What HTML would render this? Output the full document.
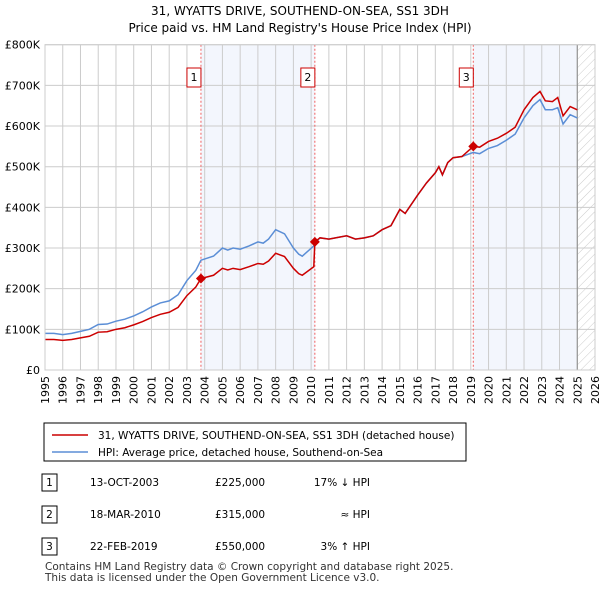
<!DOCTYPE html>
<html><head><meta charset="utf-8"><style>
body{margin:0;background:#fff;font-family:"Liberation Sans","DejaVu Sans",sans-serif;}
svg text{font-family:"DejaVu Sans","Liberation Sans",sans-serif;}
</style></head><body>
<svg id="c" width="600" height="590" xmlns="http://www.w3.org/2000/svg">
<defs><pattern id="hatch" width="6" height="6" patternUnits="userSpaceOnUse" patternTransform="rotate(45)"><line x1="0" y1="0" x2="0" y2="6" stroke="#ccc" stroke-width="1"/></pattern></defs>
<text x="300" y="15" text-anchor="middle" font-size="12">31, WYATTS DRIVE, SOUTHEND-ON-SEA, SS1 3DH</text>
<text x="300" y="32" text-anchor="middle" font-size="12">Price paid vs. HM Land Registry's House Price Index (HPI)</text>
<g id="plot"></g>
<rect x="44" y="423" width="422" height="38" fill="#fff" stroke="#000" stroke-width="1"/>
<line x1="52" y1="435" x2="88" y2="435" stroke="#cc0000" stroke-width="1.5"/>
<text x="98" y="439" font-size="10.5">31, WYATTS DRIVE, SOUTHEND-ON-SEA, SS1 3DH (detached house)</text>
<line x1="52" y1="452" x2="88" y2="452" stroke="#5b8ed6" stroke-width="1.5"/>
<text x="98" y="456" font-size="10.5">HPI: Average price, detached house, Southend-on-Sea</text>
<g font-size="10.5">
<rect x="42" y="474" width="15" height="17" fill="#fff" stroke="#000"/><text x="49.5" y="486" text-anchor="middle">1</text>
<text x="90" y="486">13-OCT-2003</text><text x="215" y="486">£225,000</text><text x="370" y="486" text-anchor="end">17% ↓ HPI</text>
<rect x="42" y="506" width="15" height="17" fill="#fff" stroke="#000"/><text x="49.5" y="518" text-anchor="middle">2</text>
<text x="90" y="518">18-MAR-2010</text><text x="215" y="518">£315,000</text><text x="370" y="518" text-anchor="end">≈ HPI</text>
<rect x="42" y="538" width="15" height="17" fill="#fff" stroke="#000"/><text x="49.5" y="550" text-anchor="middle">3</text>
<text x="90" y="550">22-FEB-2019</text><text x="215" y="550">£550,000</text><text x="370" y="550" text-anchor="end">3% ↑ HPI</text>
</g>
<text x="45" y="570" font-size="10.5" fill="#333">Contains HM Land Registry data © Crown copyright and database right 2025.</text>
<text x="45" y="581" font-size="10.5" fill="#333">This data is licensed under the Open Government Licence v3.0.</text>
</svg>
<script>
const dates=[1995.0,1995.5,1996.0,1996.5,1997.0,1997.5,1998.0,1998.5,1999.0,1999.5,2000.0,2000.5,2001.0,2001.5,2002.0,2002.5,2003.0,2003.5,2003.79,2004.5,2005.0,2005.3,2005.6,2006.0,2006.5,2007.0,2007.3,2007.6,2008.0,2008.5,2009.0,2009.3,2009.5,2010.15,2010.21,2010.5,2011.0,2012.0,2012.5,2013.0,2013.5,2014.0,2014.5,2015.0,2015.3,2016.0,2016.5,2017.0,2017.2,2017.4,2017.7,2018.0,2018.5,2019.14,2019.5,2020.0,2020.5,2021.0,2021.5,2022.0,2022.5,2022.9,2023.2,2023.6,2023.9,2024.2,2024.6,2025.0];
const hpi=[90,90,87,90,95,100,112,113,120,125,133,143,155,165,170,185,220,245,270,280,300,295,300,297,305,315,312,322,345,335,300,285,280,305,312,325,322,330,322,325,330,345,355,395,385,430,460,485,500,480,510,522,525,535,532,545,552,565,580,620,650,665,640,640,645,605,628,620];
const price=[75,75,73,75,79,83,93,94,100,104,111,119,129,137,142,154,183,204,225,233,250,246,250,247,254,262,260,268,287,279,250,237,233,254,315,325,322,330,322,325,330,345,355,395,385,430,460,485,500,480,510,522,525,550,548,562,570,582,597,640,670,685,662,660,670,625,648,640];
const saleDates=[2003.79,2010.21,2019.14];
const salePrices=[225,315,550];
const saleLabels=["1","2","3"];
const yTicks=[0,100,200,300,400,500,600,700,800];
const yTickLabels=["£0","£100K","£200K","£300K","£400K","£500K","£600K","£700K","£800K"];
const xYears=[1995,1996,1997,1998,1999,2000,2001,2002,2003,2004,2005,2006,2007,2008,2009,2010,2011,2012,2013,2014,2015,2016,2017,2018,2019,2020,2021,2022,2023,2024,2025,2026];
const dataEnd=2025.0;
const X0=45,X1=595,Y0=370,Y1=44.7;
const xs=t=>X0+(t-1995)/(2026-1995)*(X1-X0);
const ys=v=>Y0-v/800*(Y0-Y1);
const NS="http://www.w3.org/2000/svg";
const g=document.getElementById('plot');
function mk(tag,attrs){const e=document.createElementNS(NS,tag);for(const k in attrs)e.setAttribute(k,attrs[k]);g.appendChild(e);return e;}
// shaded periods
for(let i=0;i<saleDates.length;i++){
  if(i%2===0){const end=i+1<saleDates.length?saleDates[i+1]:dataEnd;
    const r=mk('rect',{x:xs(saleDates[i]),y:Y1,width:xs(end)-xs(saleDates[i]),height:Y0-Y1,fill:'#eef2fc',opacity:0.7});
    
    }
}
const hr=mk('rect',{x:xs(dataEnd),y:Y1,width:X1-xs(dataEnd),height:Y0-Y1,fill:'url(#hatch)'});


// grid
yTicks.forEach((v,i)=>{
  const l=mk('line',{x1:X0,x2:X1,y1:ys(v),y2:ys(v),stroke:'#ccc','stroke-width':1});
  
  
  const t=mk('text',{x:40,y:ys(v)+4,'text-anchor':'end','font-size':11});
  t.textContent=yTickLabels[i];
  
  
});
xYears.forEach(yr=>{
  const l=mk('line',{x1:xs(yr),x2:xs(yr),y1:Y1,y2:Y0,stroke:'#ccc','stroke-width':1});
  
  
  const t=mk('text',{x:0,y:0,'text-anchor':'end','font-size':11,transform:`translate(${xs(yr)+4},376) rotate(-90)`});
  t.textContent=yr;
  
  
});
const el=mk('line',{x1:xs(dataEnd),x2:xs(dataEnd),y1:Y1,y2:Y0,stroke:'#888','stroke-width':1});


// sale markers lines
saleDates.forEach((d,i)=>{
  const l=mk('line',{x1:xs(d),x2:xs(d),y1:Y1,y2:Y0,stroke:'#f06060','stroke-width':1,'stroke-dasharray':'2,2'});
  
  
  const b=mk('rect',{x:xs(d)-14,y:68,width:14,height:19,fill:'#fff',stroke:'#cc0000','stroke-width':1});
  
  
  const t=mk('text',{x:xs(d)-7,y:81,'text-anchor':'middle','font-size':11});
  t.textContent=saleLabels[i];
  
  
});
const hp=mk('polyline',{points:dates.map((d,i)=>xs(d)+','+ys(hpi[i])).join(' '),fill:'none',stroke:'#5b8ed6','stroke-width':1.5});


const pp=mk('polyline',{points:dates.map((d,i)=>xs(d)+','+ys(price[i])).join(' '),fill:'none',stroke:'#cc0000','stroke-width':1.5});


saleDates.forEach((d,i)=>{
  const x=xs(d),y=ys(salePrices[i]);
  const m=mk('polygon',{points:`${x},${y-5} ${x+5},${y} ${x},${y+5} ${x-5},${y}`,fill:'#cc0000'});
  
  
});
const ax=mk('rect',{x:X0,y:Y1,width:X1-X0,height:Y0-Y1,fill:'none',stroke:'#ccc'});


</script>
</body></html>
